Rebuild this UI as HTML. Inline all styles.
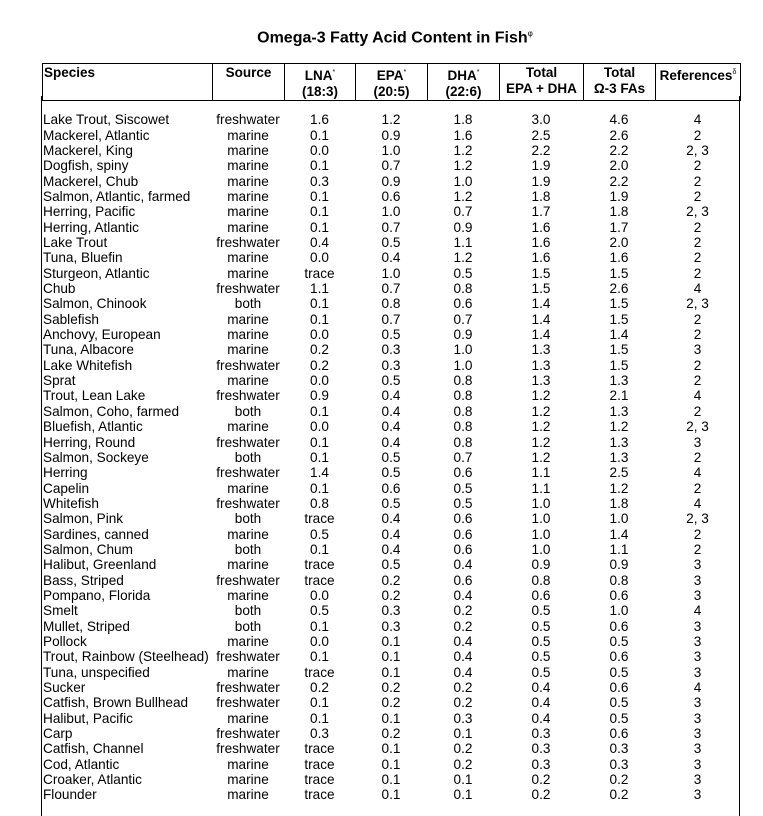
<!DOCTYPE html>
<html><head><meta charset="utf-8"><style>
body{margin:0;width:763px;height:804px;background:#fff;position:relative;overflow:hidden;font-family:"Liberation Sans",Arial,sans-serif;color:#000}
.title{position:absolute;top:29px;left:10px;width:770px;text-align:center;font-weight:bold;font-size:16px}
.title sup{font-size:8px;font-weight:normal}
table{border-collapse:collapse;table-layout:fixed;position:absolute;left:42px}
#h{top:63px;width:698px}
#h td{border:1.3px solid #000;height:31px;vertical-align:top;text-align:center;font-weight:bold;font-size:13.5px;line-height:16px;padding:1px 0 0 0}
#h td:first-child{text-align:left;padding-left:1px}
#h sup{font-size:7px;font-weight:normal;vertical-align:6px}
.box{position:absolute;left:41px;top:96px;width:697px;height:720px;border-left:1.3px solid #000;border-right:1.3px solid #000}
#b{top:112.3px;width:698px}
#b td{height:15.34px;padding:0;font-size:13.6px;line-height:15.34px;text-align:center;white-space:nowrap}
#b td:first-child{text-align:left;padding-left:1px}
</style></head><body>
<div class="title">Omega-3 Fatty Acid Content in Fish<sup>φ</sup></div>
<div class="box"></div>
<table id="h"><colgroup><col style="width:170px"><col style="width:72px"><col style="width:71px"><col style="width:72px"><col style="width:72px"><col style="width:84px"><col style="width:72px"><col style="width:85px"></colgroup>
<tr><td>Species</td><td>Source</td><td>LNA<sup>*</sup><br>(18:3)</td><td>EPA<sup>*</sup><br>(20:5)</td><td>DHA<sup>*</sup><br>(22:6)</td><td>Total<br>EPA + DHA</td><td>Total<br>Ω-3 FAs</td><td>References<sup>δ</sup></td></tr></table>
<table id="b"><colgroup><col style="width:170px"><col style="width:72px"><col style="width:71px"><col style="width:72px"><col style="width:72px"><col style="width:84px"><col style="width:72px"><col style="width:85px"></colgroup>
<tr><td>Lake Trout, Siscowet</td><td>freshwater</td><td>1.6</td><td>1.2</td><td>1.8</td><td>3.0</td><td>4.6</td><td>4</td></tr>
<tr><td>Mackerel, Atlantic</td><td>marine</td><td>0.1</td><td>0.9</td><td>1.6</td><td>2.5</td><td>2.6</td><td>2</td></tr>
<tr><td>Mackerel, King</td><td>marine</td><td>0.0</td><td>1.0</td><td>1.2</td><td>2.2</td><td>2.2</td><td>2, 3</td></tr>
<tr><td>Dogfish, spiny</td><td>marine</td><td>0.1</td><td>0.7</td><td>1.2</td><td>1.9</td><td>2.0</td><td>2</td></tr>
<tr><td>Mackerel, Chub</td><td>marine</td><td>0.3</td><td>0.9</td><td>1.0</td><td>1.9</td><td>2.2</td><td>2</td></tr>
<tr><td>Salmon, Atlantic, farmed</td><td>marine</td><td>0.1</td><td>0.6</td><td>1.2</td><td>1.8</td><td>1.9</td><td>2</td></tr>
<tr><td>Herring, Pacific</td><td>marine</td><td>0.1</td><td>1.0</td><td>0.7</td><td>1.7</td><td>1.8</td><td>2, 3</td></tr>
<tr><td>Herring, Atlantic</td><td>marine</td><td>0.1</td><td>0.7</td><td>0.9</td><td>1.6</td><td>1.7</td><td>2</td></tr>
<tr><td>Lake Trout</td><td>freshwater</td><td>0.4</td><td>0.5</td><td>1.1</td><td>1.6</td><td>2.0</td><td>2</td></tr>
<tr><td>Tuna, Bluefin</td><td>marine</td><td>0.0</td><td>0.4</td><td>1.2</td><td>1.6</td><td>1.6</td><td>2</td></tr>
<tr><td>Sturgeon, Atlantic</td><td>marine</td><td>trace</td><td>1.0</td><td>0.5</td><td>1.5</td><td>1.5</td><td>2</td></tr>
<tr><td>Chub</td><td>freshwater</td><td>1.1</td><td>0.7</td><td>0.8</td><td>1.5</td><td>2.6</td><td>4</td></tr>
<tr><td>Salmon, Chinook</td><td>both</td><td>0.1</td><td>0.8</td><td>0.6</td><td>1.4</td><td>1.5</td><td>2, 3</td></tr>
<tr><td>Sablefish</td><td>marine</td><td>0.1</td><td>0.7</td><td>0.7</td><td>1.4</td><td>1.5</td><td>2</td></tr>
<tr><td>Anchovy, European</td><td>marine</td><td>0.0</td><td>0.5</td><td>0.9</td><td>1.4</td><td>1.4</td><td>2</td></tr>
<tr><td>Tuna, Albacore</td><td>marine</td><td>0.2</td><td>0.3</td><td>1.0</td><td>1.3</td><td>1.5</td><td>3</td></tr>
<tr><td>Lake Whitefish</td><td>freshwater</td><td>0.2</td><td>0.3</td><td>1.0</td><td>1.3</td><td>1.5</td><td>2</td></tr>
<tr><td>Sprat</td><td>marine</td><td>0.0</td><td>0.5</td><td>0.8</td><td>1.3</td><td>1.3</td><td>2</td></tr>
<tr><td>Trout, Lean Lake</td><td>freshwater</td><td>0.9</td><td>0.4</td><td>0.8</td><td>1.2</td><td>2.1</td><td>4</td></tr>
<tr><td>Salmon, Coho, farmed</td><td>both</td><td>0.1</td><td>0.4</td><td>0.8</td><td>1.2</td><td>1.3</td><td>2</td></tr>
<tr><td>Bluefish, Atlantic</td><td>marine</td><td>0.0</td><td>0.4</td><td>0.8</td><td>1.2</td><td>1.2</td><td>2, 3</td></tr>
<tr><td>Herring, Round</td><td>freshwater</td><td>0.1</td><td>0.4</td><td>0.8</td><td>1.2</td><td>1.3</td><td>3</td></tr>
<tr><td>Salmon, Sockeye</td><td>both</td><td>0.1</td><td>0.5</td><td>0.7</td><td>1.2</td><td>1.3</td><td>2</td></tr>
<tr><td>Herring</td><td>freshwater</td><td>1.4</td><td>0.5</td><td>0.6</td><td>1.1</td><td>2.5</td><td>4</td></tr>
<tr><td>Capelin</td><td>marine</td><td>0.1</td><td>0.6</td><td>0.5</td><td>1.1</td><td>1.2</td><td>2</td></tr>
<tr><td>Whitefish</td><td>freshwater</td><td>0.8</td><td>0.5</td><td>0.5</td><td>1.0</td><td>1.8</td><td>4</td></tr>
<tr><td>Salmon, Pink</td><td>both</td><td>trace</td><td>0.4</td><td>0.6</td><td>1.0</td><td>1.0</td><td>2, 3</td></tr>
<tr><td>Sardines, canned</td><td>marine</td><td>0.5</td><td>0.4</td><td>0.6</td><td>1.0</td><td>1.4</td><td>2</td></tr>
<tr><td>Salmon, Chum</td><td>both</td><td>0.1</td><td>0.4</td><td>0.6</td><td>1.0</td><td>1.1</td><td>2</td></tr>
<tr><td>Halibut, Greenland</td><td>marine</td><td>trace</td><td>0.5</td><td>0.4</td><td>0.9</td><td>0.9</td><td>3</td></tr>
<tr><td>Bass, Striped</td><td>freshwater</td><td>trace</td><td>0.2</td><td>0.6</td><td>0.8</td><td>0.8</td><td>3</td></tr>
<tr><td>Pompano, Florida</td><td>marine</td><td>0.0</td><td>0.2</td><td>0.4</td><td>0.6</td><td>0.6</td><td>3</td></tr>
<tr><td>Smelt</td><td>both</td><td>0.5</td><td>0.3</td><td>0.2</td><td>0.5</td><td>1.0</td><td>4</td></tr>
<tr><td>Mullet, Striped</td><td>both</td><td>0.1</td><td>0.3</td><td>0.2</td><td>0.5</td><td>0.6</td><td>3</td></tr>
<tr><td>Pollock</td><td>marine</td><td>0.0</td><td>0.1</td><td>0.4</td><td>0.5</td><td>0.5</td><td>3</td></tr>
<tr><td>Trout, Rainbow (Steelhead)</td><td>freshwater</td><td>0.1</td><td>0.1</td><td>0.4</td><td>0.5</td><td>0.6</td><td>3</td></tr>
<tr><td>Tuna, unspecified</td><td>marine</td><td>trace</td><td>0.1</td><td>0.4</td><td>0.5</td><td>0.5</td><td>3</td></tr>
<tr><td>Sucker</td><td>freshwater</td><td>0.2</td><td>0.2</td><td>0.2</td><td>0.4</td><td>0.6</td><td>4</td></tr>
<tr><td>Catfish, Brown Bullhead</td><td>freshwater</td><td>0.1</td><td>0.2</td><td>0.2</td><td>0.4</td><td>0.5</td><td>3</td></tr>
<tr><td>Halibut, Pacific</td><td>marine</td><td>0.1</td><td>0.1</td><td>0.3</td><td>0.4</td><td>0.5</td><td>3</td></tr>
<tr><td>Carp</td><td>freshwater</td><td>0.3</td><td>0.2</td><td>0.1</td><td>0.3</td><td>0.6</td><td>3</td></tr>
<tr><td>Catfish, Channel</td><td>freshwater</td><td>trace</td><td>0.1</td><td>0.2</td><td>0.3</td><td>0.3</td><td>3</td></tr>
<tr><td>Cod, Atlantic</td><td>marine</td><td>trace</td><td>0.1</td><td>0.2</td><td>0.3</td><td>0.3</td><td>3</td></tr>
<tr><td>Croaker, Atlantic</td><td>marine</td><td>trace</td><td>0.1</td><td>0.1</td><td>0.2</td><td>0.2</td><td>3</td></tr>
<tr><td>Flounder</td><td>marine</td><td>trace</td><td>0.1</td><td>0.1</td><td>0.2</td><td>0.2</td><td>3</td></tr>
</table>
</body></html>
